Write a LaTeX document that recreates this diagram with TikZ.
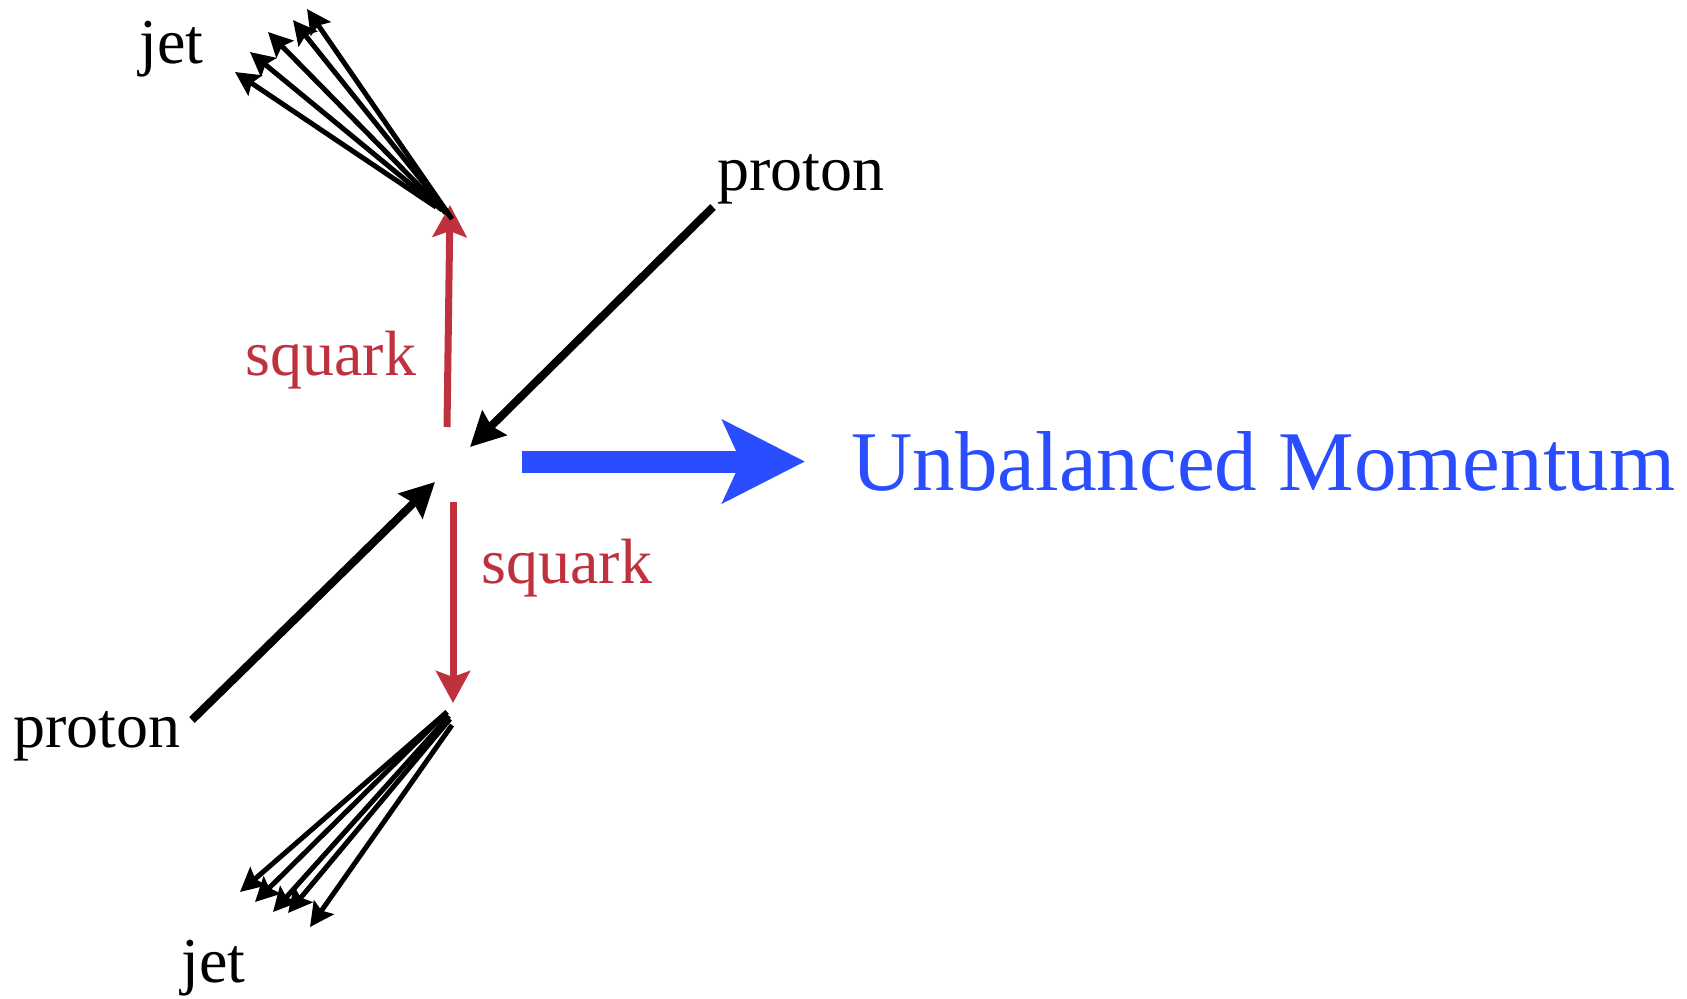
\documentclass[tikz,border=0pt]{standalone}
\usepackage{fontspec}
\setmainfont{Liberation Serif}
\usetikzlibrary{arrows.meta}
\definecolor{sqred}{RGB}{192,49,62}
\definecolor{mblue}{RGB}{42,78,255}
\begin{document}
\begin{tikzpicture}[x=0.5pt,y=-0.5pt,
  lbl/.style={inner sep=0pt, anchor=base west, font=\fontsize{32}{38}\selectfont},
  biglbl/.style={inner sep=0pt, anchor=base west, font=\fontsize{42.5}{50}\selectfont, text=mblue},
  protonarrow/.style={draw=black, line width=4pt, -{Stealth[length=17pt,width=17pt,inset=2pt]}},
  squarkarrow/.style={draw=sqred, line width=3.5pt, -{Stealth[length=16pt,width=17pt,inset=3pt]}},
  jetarrow/.style={draw=black, line width=2.5pt, -{Stealth[length=12pt,width=12pt,inset=2pt]}},
  momarrow/.style={draw=mblue, line width=11pt, -{Stealth[length=41pt,width=41pt,inset=9pt]}}]
\useasboundingbox (0,0) rectangle (1687,998);

% labels
\node[lbl] (jetT) at (139,63) {jet};
\node[lbl] (protonT) at (717,190) {proton};
\node[lbl, text=sqred] (sqT) at (245,375) {squark};
\node[biglbl] (unb) at (851,490) {Unbalanced Momentum};
\node[lbl, text=sqred] (sqB) at (481,583) {squark};
\node[lbl] (protonB) at (13,747) {proton};
\node[lbl] (jetB) at (181,982) {jet};

% coordinates
\coordinate (sqTs) at (447,427); \coordinate (sqTe) at (450,205);
\coordinate (sqBs) at (453,502); \coordinate (sqBe) at (453,703);
\coordinate (pTs) at (713,207); \coordinate (pTe) at (470,447);
\coordinate (pBs) at (192,720); \coordinate (pBe) at (435,482);
\coordinate (ms) at (522,461.5); \coordinate (me) at (805,461.5);

% top jet
\coordinate (jt1s) at (436,207); \coordinate (jt1e) at (235,72);
\coordinate (jt2s) at (442,210); \coordinate (jt2e) at (250,52);
\coordinate (jt3s) at (446,213); \coordinate (jt3e) at (268,32);
\coordinate (jt4s) at (450,216); \coordinate (jt4e) at (293,20);
\coordinate (jt5s) at (452,219); \coordinate (jt5e) at (307,9);
% bottom jet
\coordinate (jb1s) at (447,712); \coordinate (jb1e) at (240,892);
\coordinate (jb2s) at (447,712); \coordinate (jb2e) at (255,902);
\coordinate (jb3s) at (449,716); \coordinate (jb3e) at (273,912);
\coordinate (jb4s) at (450,719); \coordinate (jb4e) at (288,913);
\coordinate (jb5s) at (452,725); \coordinate (jb5e) at (310,927);

\draw[squarkarrow] (sqTs) -- (sqTe);
\draw[squarkarrow] (sqBs) -- (sqBe);
\draw[protonarrow] (pTs) -- (pTe);
\draw[protonarrow] (pBs) -- (pBe);
\draw[momarrow] (ms) -- (me);

\foreach \i in {1,...,5} {
  \draw[jetarrow] (jt\i s) -- (jt\i e);
  \draw[jetarrow] (jb\i s) -- (jb\i e);
}
\end{tikzpicture}
\end{document}
